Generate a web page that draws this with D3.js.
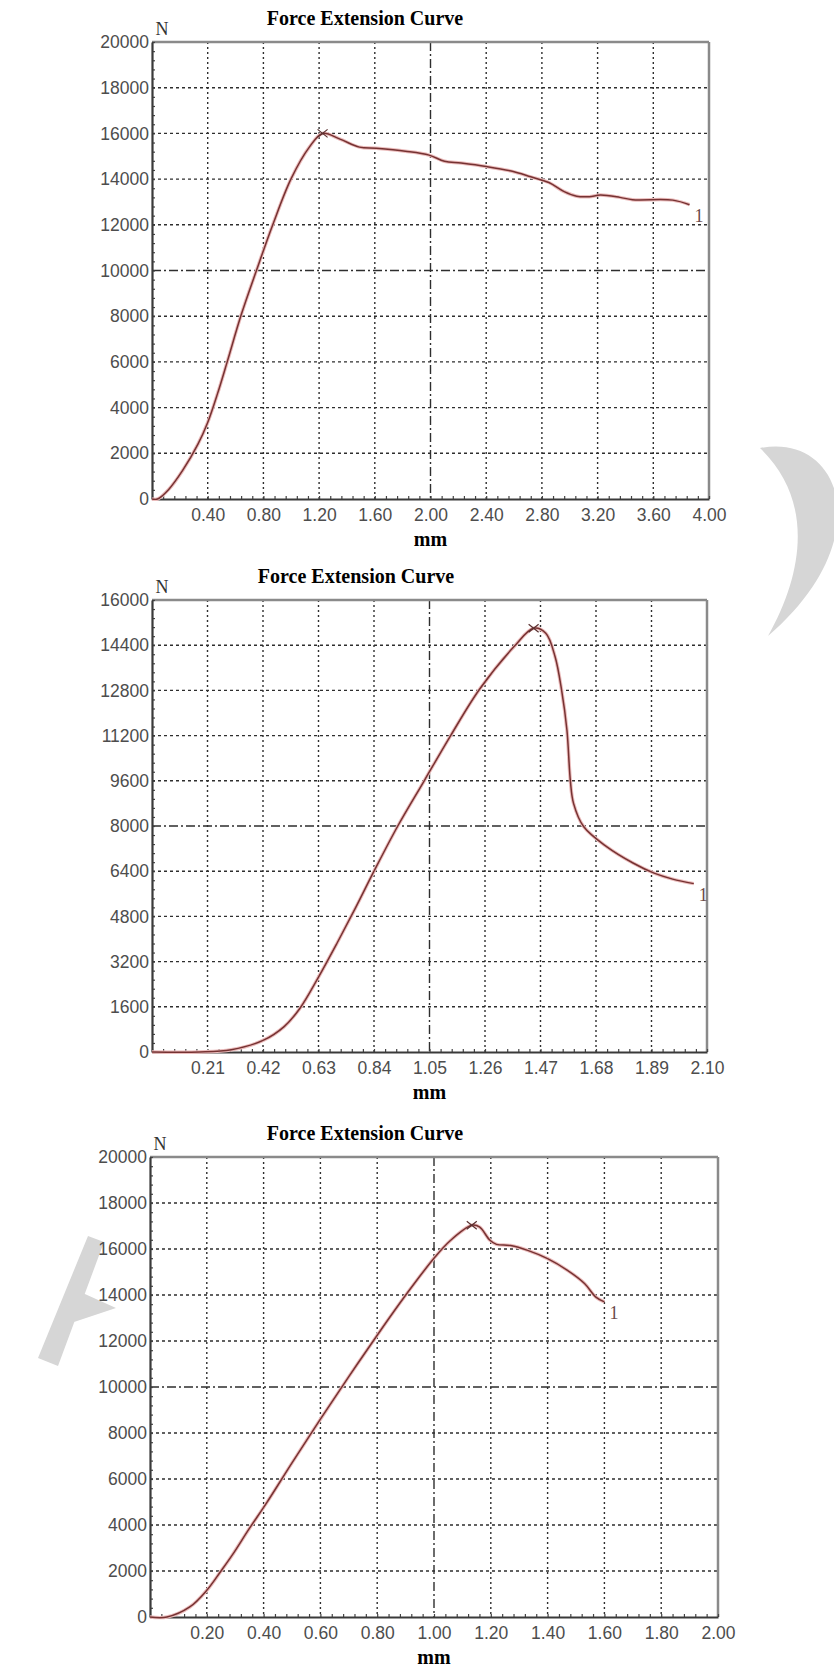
<!DOCTYPE html>
<html>
<head>
<meta charset="utf-8">
<script src="https://cdn.jsdelivr.net/npm/d3@7"></script>
<style>
  body { margin: 0; background: #fff; }
</style>
</head>
<body>
<svg id="page"></svg>
<script>
// --- data ---
const titleText = "Force Extension Curve";

const c1Ext = [0, 0.04, 0.12, 0.22, 0.33, 0.40, 0.47, 0.54, 0.64, 0.75, 0.87, 1.00, 1.13, 1.225, 1.35, 1.49, 1.61, 1.82, 1.99, 2.10, 2.22, 2.40, 2.58, 2.72, 2.85, 2.96, 3.05, 3.14, 3.22, 3.36, 3.45, 3.74, 3.86];
const c1Force = [0, 0, 420, 1250, 2400, 3350, 4600, 6000, 8050, 10000, 12050, 14030, 15400, 16000, 15750, 15400, 15350, 15220, 15050, 14780, 14700, 14550, 14350, 14100, 13850, 13450, 13250, 13230, 13300, 13200, 13100, 13080, 12880];
const c1XTicks = ["0.40", "0.80", "1.20", "1.60", "2.00", "2.40", "2.80", "3.20", "3.60", "4.00"];
const c1YTicks = ["0", "2000", "4000", "6000", "8000", "10000", "12000", "14000", "16000", "18000", "20000"];

const c2Ext = [0, 0.18, 0.30, 0.42, 0.50, 0.56, 0.63, 0.70, 0.77, 0.84, 0.93, 1.03, 1.13, 1.24, 1.37, 1.444, 1.49, 1.525, 1.55, 1.57, 1.583, 1.595, 1.633, 1.72, 1.82, 1.90, 1.97, 2.05];
const c2Force = [0, 0, 80, 410, 900, 1550, 2650, 3850, 5100, 6400, 8000, 9600, 11200, 12850, 14350, 15000, 14820, 14000, 12800, 11400, 9600, 8800, 7980, 7270, 6690, 6330, 6120, 5960];
const c2XTicks = ["0.21", "0.42", "0.63", "0.84", "1.05", "1.26", "1.47", "1.68", "1.89", "2.10"];
const c2YTicks = ["0", "1600", "3200", "4800", "6400", "8000", "9600", "11200", "12800", "14400", "16000"];

const c3Ext = [0, 0.06, 0.14, 0.20, 0.25, 0.29, 0.35, 0.41, 0.50, 0.60, 0.70, 0.80, 0.88, 0.94, 1.00, 1.056, 1.133, 1.16, 1.197, 1.22, 1.27, 1.33, 1.40, 1.47, 1.53, 1.57, 1.60];
const c3Force = [0, 0, 435, 1160, 2000, 2700, 3850, 4950, 6700, 8600, 10450, 12250, 13650, 14650, 15600, 16350, 17030, 16960, 16380, 16200, 16150, 15940, 15580, 15070, 14500, 13910, 13700];
const c3XTicks = ["0.20", "0.40", "0.60", "0.80", "1.00", "1.20", "1.40", "1.60", "1.80", "2.00"];
const c3YTicks = ["0", "2000", "4000", "6000", "8000", "10000", "12000", "14000", "16000", "18000", "20000"];

const width = 834;
const height = 1670;

const svg = d3.select("#page")
    .attr("width", width)
    .attr("height", height)
    .attr("viewBox", [0, 0, width, height]);

// light grey watermark shapes
svg.append("path")
    .attr("d", "M760,448 C842,432 880,540 768,636 C804,572 814,500 760,448 Z")
    .attr("fill", "#d6d6d6");
svg.append("path")
    .attr("d", "M88,1236 L104,1242 L58,1366 L38,1358 Z M76,1290 L116,1308 L68,1324 Z")
    .attr("fill", "#d6d6d6");

function drawChart(cfg) {
    const g = svg.append("g");
    const xVals = cfg.xTicks.map(Number);
    const yVals = cfg.yTicks.map(Number);

    const x = d3.scaleLinear()
        .domain([0, xVals[xVals.length - 1]])
        .range([cfg.left, cfg.right]);

    const y = d3.scaleLinear()
        .domain([0, yVals[yVals.length - 1]])
        .range([cfg.bottom, cfg.top]);

    // grid
    yVals.slice(1, -1).forEach((v, i) => {
        g.append("line")
            .attr("x1", cfg.left).attr("x2", cfg.right)
            .attr("y1", y(v)).attr("y2", y(v))
            .attr("stroke", "#2e2e2e")
            .attr("stroke-width", 1.4)
            .attr("stroke-dasharray", i === 4 ? "9,3,2,3" : "3,3");
    });
    xVals.slice(0, -1).forEach((v, i) => {
        g.append("line")
            .attr("x1", x(v)).attr("x2", x(v))
            .attr("y1", cfg.top).attr("y2", cfg.bottom)
            .attr("stroke", "#2e2e2e")
            .attr("stroke-width", 1.4)
            .attr("stroke-dasharray", i === 4 ? "9,3,2,3" : "2,3");
    });

    // frame: grey top/right, darker axes
    g.append("line")
        .attr("x1", cfg.left).attr("x2", cfg.right)
        .attr("y1", cfg.top).attr("y2", cfg.top)
        .attr("stroke", "#8a8a8a").attr("stroke-width", 2.5);
    g.append("line")
        .attr("x1", cfg.right).attr("x2", cfg.right)
        .attr("y1", cfg.top).attr("y2", cfg.bottom)
        .attr("stroke", "#8a8a8a").attr("stroke-width", 2.5);

    // minor ticks, 5 per grid interval
    const xMinor = d3.range(0, xVals.length * 5 + 1).map(i => i * xVals[0] / 5);
    const yMinor = d3.range(0, (yVals.length - 1) * 5 + 1).map(i => i * yVals[1] / 5);

    g.append("g")
        .attr("transform", `translate(0,${cfg.bottom})`)
        .call(d3.axisTop(x).tickValues(xMinor.filter(v => v <= x.domain()[1])).tickSize(3).tickFormat(""))
        .call(a => a.select(".domain").remove())
        .call(a => a.selectAll("line").attr("stroke", "#444").attr("stroke-width", 1.2));

    g.append("g")
        .attr("transform", `translate(${cfg.left},0)`)
        .call(d3.axisRight(y).tickValues(yMinor).tickSize(3).tickFormat(""))
        .call(a => a.select(".domain").remove())
        .call(a => a.selectAll("line").attr("stroke", "#444").attr("stroke-width", 1.2));

    // x axis with labels
    g.append("g")
        .attr("transform", `translate(0,${cfg.bottom})`)
        .call(d3.axisBottom(x).tickValues(xVals).tickSize(0).tickPadding(10)
            .tickFormat((d, i) => cfg.xTicks[i]))
        .call(a => a.select(".domain").attr("stroke", "#3a3a3a").attr("stroke-width", 2.2))
        .call(a => a.selectAll("text")
            .attr("fill", "#4d4d4d")
            .style("font-family", "'Liberation Sans', Arial, sans-serif")
            .style("font-size", "17.5px"));

    // y axis with labels
    g.append("g")
        .attr("transform", `translate(${cfg.left},0)`)
        .call(d3.axisLeft(y).tickValues(yVals).tickSize(0).tickPadding(3)
            .tickFormat((d, i) => cfg.yTicks[i]))
        .call(a => a.select(".domain").attr("stroke", "#3a3a3a").attr("stroke-width", 2.2))
        .call(a => a.selectAll("text")
            .attr("fill", "#4d4d4d")
            .style("font-family", "'Liberation Sans', Arial, sans-serif")
            .style("font-size", "17.5px"));

    // curve
    const pts = cfg.ext.map((e, i) => [e, cfg.force[i]]);
    const line = d3.line()
        .x(d => x(d[0]))
        .y(d => y(d[1]))
        .curve(d3.curveCatmullRom.alpha(0.5));

    g.append("path")
        .datum(pts)
        .attr("d", line)
        .attr("fill", "none")
        .attr("stroke", "#ebbcbc")
        .attr("stroke-width", 3.5);
    g.append("path")
        .datum(pts)
        .attr("d", line)
        .attr("fill", "none")
        .attr("stroke", "#763232")
        .attr("stroke-width", 1.5);

    // peak marker
    const peak = pts[d3.maxIndex(pts, d => d[1])];
    const px = x(peak[0]), py = y(peak[1]);
    g.append("path")
        .attr("d", `M${px - 5},${py - 4}L${px + 5},${py + 4}M${px - 5},${py + 4}L${px + 5},${py - 4}`)
        .attr("stroke", "#5a3030")
        .attr("stroke-width", 1.2);

    // curve number at end
    const last = pts[pts.length - 1];
    g.append("text")
        .attr("x", x(last[0]) + 5)
        .attr("y", y(last[1]) + 17)
        .attr("fill", "#6a4a4a")
        .style("font-family", "'Liberation Serif', 'Times New Roman', serif")
        .style("font-size", "18px")
        .text("1");

    // unit labels
    g.append("text")
        .attr("x", cfg.left + 10)
        .attr("y", cfg.top - 7)
        .attr("text-anchor", "middle")
        .attr("fill", "#333")
        .style("font-family", "'Liberation Serif', 'Times New Roman', serif")
        .style("font-size", "18px")
        .text("N");

    g.append("text")
        .attr("x", (cfg.left + cfg.right) / 2)
        .attr("y", cfg.bottom + 47)
        .attr("text-anchor", "middle")
        .attr("fill", "#000")
        .style("font-family", "'Liberation Serif', 'Times New Roman', serif")
        .style("font-weight", "bold")
        .style("font-size", "20px")
        .text("mm");

    g.append("text")
        .attr("x", cfg.titleX)
        .attr("y", cfg.top - 17)
        .attr("text-anchor", "middle")
        .attr("fill", "#000")
        .style("font-family", "'Liberation Serif', 'Times New Roman', serif")
        .style("font-weight", "bold")
        .style("font-size", "20px")
        .text(titleText);
}

drawChart({ext: c1Ext, force: c1Force, xTicks: c1XTicks, yTicks: c1YTicks,
    left: 152, right: 709, top: 42, bottom: 499, titleX: 365});
drawChart({ext: c2Ext, force: c2Force, xTicks: c2XTicks, yTicks: c2YTicks,
    left: 152, right: 707, top: 600, bottom: 1052, titleX: 356});
drawChart({ext: c3Ext, force: c3Force, xTicks: c3XTicks, yTicks: c3YTicks,
    left: 150, right: 718, top: 1157, bottom: 1617, titleX: 365});
</script>
</body>
</html>
